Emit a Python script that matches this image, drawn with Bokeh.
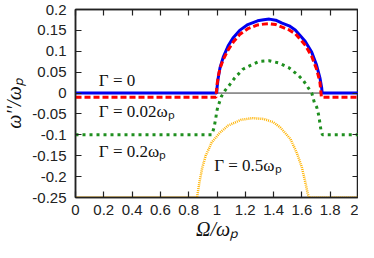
from bokeh.plotting import figure
from bokeh.models import Range1d, LinearAxis, FixedTicker
from bokeh.core.properties import value
from bokeh.embed import file_html
from bokeh.resources import INLINE

# ---- data ----
x_ticks = [0, 0.2, 0.4, 0.6, 0.8, 1.0, 1.2, 1.4, 1.6, 1.8, 2.0]
x_tick_labels = ["0", "0.2", "0.4", "0.6", "0.8", "1", "1.2", "1.4", "1.6", "1.8", "2"]
y_ticks = [0.2, 0.15, 0.1, 0.05, 0.0, -0.05, -0.1, -0.15, -0.2, -0.25]
y_tick_labels = ["0.2", "0.15", "0.1", "0.05", "0", "-0.05", "-0.1", "-0.15", "-0.2", "-0.25"]

# Gamma = 0
blue_x = [0, 0.998, 1.001, 1.009, 1.021, 1.044, 1.079, 1.113, 1.16, 1.218, 1.287, 1.33, 1.37,
          1.415, 1.46, 1.51, 1.553, 1.623, 1.669, 1.703, 1.727, 1.74, 1.743, 2.0]
blue_y = [0, 0, 0.015, 0.037, 0.060, 0.086, 0.113, 0.132, 0.150, 0.164, 0.173, 0.1755, 0.177,
          0.1745, 0.1675, 0.161, 0.151, 0.124, 0.098, 0.0675, 0.037, 0.012, 0, 0]

# Gamma = 0.02 w_p
red_x = [0, 0.993, 1.0, 1.01, 1.022, 1.045, 1.08, 1.115, 1.16, 1.218, 1.287, 1.33, 1.37,
         1.415, 1.46, 1.51, 1.553, 1.623, 1.669, 1.703, 1.727, 1.738, 2.0]
red_y = [-0.01, -0.01, 0.02, 0.042, 0.060, 0.081, 0.104, 0.122, 0.140, 0.154, 0.163, 0.165,
         0.166, 0.164, 0.158, 0.151, 0.142, 0.115, 0.088, 0.058, 0.027, -0.01, -0.01]

# Gamma = 0.2 w_p
green_x = [0, 0.963, 0.979, 0.991, 0.998, 1.005, 1.032, 1.06, 1.09, 1.125, 1.183, 1.241,
           1.30, 1.368, 1.438, 1.507, 1.576, 1.61, 1.64, 1.67, 1.688, 1.705, 1.716, 1.723,
           1.727, 1.734, 1.745, 2.0]
green_y = [-0.1, -0.1, -0.083, -0.061, -0.045, -0.034, -0.0075, 0.0075, 0.020, 0.036, 0.057,
           0.067, 0.076, 0.0775, 0.072, 0.061, 0.042, 0.030, 0.015, 0.0, -0.023, -0.034,
           -0.049, -0.061, -0.072, -0.087, -0.1, -0.1]

# Gamma = 0.5 w_p
orange_x = [0, 0.859, 0.875, 0.895, 0.92, 0.963, 1.02, 1.078, 1.17, 1.25, 1.33, 1.40,
            1.449, 1.519, 1.565, 1.60, 1.623, 1.64, 1.65, 2.0]
orange_y = [-0.25, -0.25, -0.215, -0.18, -0.15, -0.118, -0.095, -0.078, -0.064, -0.06,
            -0.062, -0.07, -0.083, -0.11, -0.144, -0.178, -0.212, -0.239, -0.25, -0.25]

zero_x = [0, 2]
zero_y = [0, 0]

label_texts = ["Γ = 0", "Γ = 0.02ωₚ", "Γ = 0.2ωₚ", "Γ = 0.5ωₚ"]

# ---- figure ----
p = figure(width=358, height=242, output_backend="svg", toolbar_location=None,
           x_range=Range1d(0, 2), y_range=Range1d(-0.25, 0.2),
           min_border_left=70, min_border_right=0, min_border_top=9, min_border_bottom=44,
           min_border=0)
p.grid.visible = False
p.outline_line_color = "#222222"
p.outline_line_width = 1.5
p.background_fill_color = "white"
p.border_fill_color = "white"

def style_axis(ax, show_labels):
    ax.major_tick_in = 6
    ax.major_tick_out = 0
    ax.minor_tick_in = 0
    ax.minor_tick_out = 0
    ax.axis_line_color = "#222222"
    ax.axis_line_width = 1.5
    ax.major_tick_line_color = "#222222"
    ax.major_tick_line_width = 1.2
    ax.major_label_text_font = "Liberation Sans"
    if show_labels:
        ax.major_label_text_font_size = "15px"
        ax.major_label_text_color = "#222222"
    else:
        ax.major_label_text_font_size = "0px"
        ax.major_label_text_color = None
        ax.major_label_standoff = 0
        ax.axis_label_standoff = 0

p.xaxis.ticker = FixedTicker(ticks=x_ticks)
p.xaxis.major_label_overrides = dict(zip(x_ticks, x_tick_labels))
p.yaxis.ticker = FixedTicker(ticks=y_ticks)
p.yaxis.major_label_overrides = dict(zip(y_ticks, y_tick_labels))
style_axis(p.xaxis[0], True)
style_axis(p.yaxis[0], True)
p.xaxis.major_label_standoff = 7
p.yaxis.major_label_standoff = 9

p.xaxis.axis_label = "Ω/ωₚ"
p.yaxis.axis_label = "ω′′/ωₚ"
for ax in (p.xaxis[0], p.yaxis[0]):
    ax.axis_label_text_font = "Liberation Serif"
    ax.axis_label_text_font_style = "italic"
    ax.axis_label_text_font_size = "20px"
    ax.axis_label_text_color = "#111111"
p.xaxis.axis_label_standoff = 0
p.yaxis.axis_label_standoff = 4

top_ax = LinearAxis(ticker=FixedTicker(ticks=x_ticks))
style_axis(top_ax, False)
p.add_layout(top_ax, "above")
right_ax = LinearAxis(ticker=FixedTicker(ticks=y_ticks))
style_axis(right_ax, False)
p.add_layout(right_ax, "right")

# zero line
p.line(zero_x, zero_y, line_color="#333333", line_width=1)

# curves
p.line(orange_x, orange_y, line_color="#ffb300", line_width=2.5, line_dash="1 1")
p.line(green_x, green_y, line_color="#1f8f1f", line_width=3, line_dash="3 4")
p.line(blue_x, blue_y, line_color="#0000ee", line_width=3)
p.line(red_x, red_y, line_color="#ff0000", line_width=3, line_dash="6 3")

# labels
lab_x = [0.165, 0.165, 0.165, 0.98]
lab_y = [0.030, -0.045, -0.14, -0.174]
p.text(x=lab_x, y=lab_y, text=label_texts, text_font=value("Liberation Serif"),
       text_font_size="17px", text_baseline="middle", text_align="left",
       text_color="#111111")

open("out.html", "w").write(file_html(p, INLINE))
